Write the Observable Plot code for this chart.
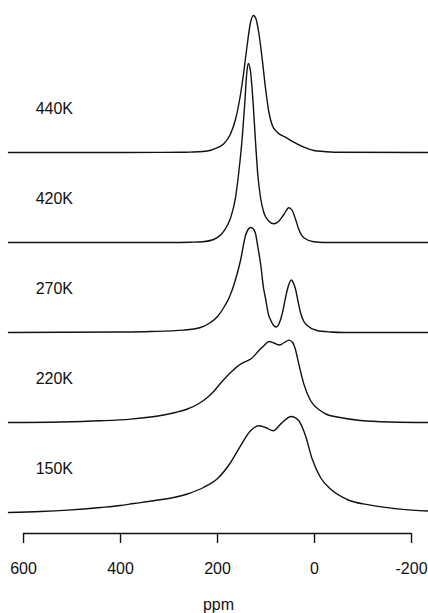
<!DOCTYPE html>
<html>
<head>
<meta charset="utf-8">
<script src="https://cdn.jsdelivr.net/npm/d3@7"></script>
<script src="https://cdn.jsdelivr.net/npm/@observablehq/plot@0.6"></script>
<style>
  html, body { margin: 0; padding: 0; background: #fff; }
  svg { display: block; }
</style>
</head>
<body>
<div id="chart"></div>
<script>
// Static NMR line shapes at several temperatures: [chemical shift (ppm), intensity (a.u.)]
const temperatures = ["440K", "420K", "270K", "220K", "150K"];

const spectrum440 = [
  [631, 0], [400, 0], [276, 0.2], [256, 0.4], [230, 1], [214, 2.3], [200, 4.8], [187, 8.7],
  [173, 18.7], [163, 33], [153, 57], [146, 80], [139, 107], [132, 130], [126, 137],
  [121, 134], [115, 120], [108, 94], [101, 64], [94, 40], [87, 27], [77, 20.3],
  [60, 15.3], [43, 10.3], [22, 5.3], [1.5, 2], [-19, 1], [-40, 0.3], [-235, 0]
];

const spectrum420 = [
  [631, 0], [300, 0], [256, 0.3], [230, 0.8], [208, 3], [187, 11.3], [173, 24.7], [163, 44.7],
  [156, 71], [149, 105], [144, 138], [140, 168], [136.7, 179], [132, 171],
  [126.4, 138], [121.7, 101], [117, 68], [111.4, 45], [104.6, 30], [94, 21.3],
  [84, 18.7], [73.6, 21.3], [63.3, 28], [53, 34.7], [46, 32], [39, 23], [32.4, 13],
  [22, 4.7], [1.5, 0.7], [-20, 0], [-235, 0]
];

const spectrum270 = [
  [631, 0], [400, 0.5], [338, 1], [270, 2.4], [235, 5], [214.5, 10], [200, 16],
  [187, 25], [175, 36], [166, 48], [152.6, 72], [142.3, 97], [137, 103], [132, 105],
  [127, 104], [121.7, 99], [117, 86], [111, 68], [105, 44], [101, 34], [95, 18],
  [91, 13], [85, 7.5], [79, 5.5], [73, 9], [67, 18], [61, 32], [56, 43], [48, 52.5],
  [43, 49], [39, 43], [34, 31], [29, 20], [22, 11], [15, 7], [-5, 2], [-33, 0.5],
  [-60, 0], [-235, 0]
];

const spectrum220 = [
  [631, 0], [524, 0.5], [441, 1.7], [379, 3.4], [338, 5.5], [311, 7.5], [287, 10],
  [262, 13.5], [240, 18.5], [221, 25], [208, 31], [196, 38], [185, 44], [173, 50],
  [152.6, 58.4], [139, 61.7], [132, 63.4], [115, 71.7], [104, 77], [94, 81],
  [84, 79.5], [72, 77.5], [62, 80], [53, 82.4], [45, 80], [40, 74], [32.4, 58.4],
  [22, 38.4], [8.3, 22], [-12.3, 11.7], [-28, 7.5], [-46.8, 5.5], [-95, 2],
  [-157, 0.5], [-235, 0]
];

const spectrum150 = [
  [631, 0], [565, 1], [509, 2.4], [441, 5], [400, 7], [373, 9], [332, 11.7],
  [262, 18.5], [229, 25], [200, 34], [173, 50], [152.6, 66.7], [132, 81.7],
  [115, 86.7], [101, 85], [85, 81.7], [70, 88.4], [48, 96], [32.4, 91.7],
  [18.6, 76.7], [4.8, 53.4], [-12.3, 35], [-33, 23.4], [-67, 13], [-115, 7.4],
  [-177, 3.4], [-235, 1.5]
];

const spectra = [spectrum440, spectrum420, spectrum270, spectrum220, spectrum150];

// Axis tick values (ppm)
const xTicks = [600, 400, 200, 0, -200];

// Vertical stacking: each trace sits on its own baseline
const spacing = 90;
const baseOf = (i) => (temperatures.length - 1 - i) * spacing;

const rows = spectra.flatMap((pts, i) =>
  pts.map(([ppm, v]) => ({ temp: temperatures[i], ppm, y: baseOf(i) + v }))
);
const labelRows = temperatures.map((t, i) => ({ temp: t, y: baseOf(i) + 44 }));

const chart = Plot.plot({
  width: 428,
  height: 613,
  marginTop: 0,
  marginLeft: 8,
  marginRight: 0,
  marginBottom: 101,
  x: { domain: [631, -235] },
  y: { domain: [0, 512], axis: null },
  style: {
    fontFamily: "'Liberation Sans', Arial, Helvetica, sans-serif",
    fontSize: "16px",
    background: "#fff",
    color: "#111"
  },
  marks: [
    Plot.line(rows, {
      x: "ppm", y: "y", z: "temp",
      curve: "monotone-x",
      stroke: "#111", strokeWidth: 1.4
    }),
    Plot.text(labelRows, {
      x: 575, y: "y", text: "temp",
      textAnchor: "start", lineAnchor: "middle",
      fontSize: 16, fill: "#111"
    }),
    Plot.ruleY([0], { x1: 600, x2: -200, dy: 21, stroke: "#111", strokeWidth: 1.4 }),
    Plot.axisX({
      ticks: xTicks,
      tickSize: 10,
      tickPadding: 19,
      dy: 21,
      tickFormat: (d) => String(d),
      label: null,
      fontSize: 16,
      strokeWidth: 1.4
    }),
    Plot.text(["ppm"], {
      frameAnchor: "bottom", dy: 92,
      lineAnchor: "middle", fontSize: 16, fill: "#111"
    })
  ]
});

document.getElementById("chart").appendChild(chart);
</script>
</body>
</html>
